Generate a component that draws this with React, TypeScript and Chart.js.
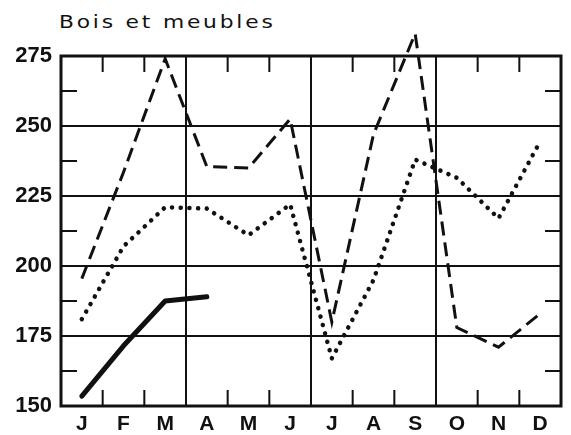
import React, { useEffect, useRef } from "react";
import { Chart, registerables } from "chart.js";

Chart.register(...registerables);

const months = ["J", "F", "M", "A", "M", "J", "J", "A", "S", "O", "N", "D"];
const dashedSeries = [195.5, 233.5, 274, 235.5, 235, 252.5, 180, 247, 283, 178, 171, 183];
const dottedSeries = [181, 207, 221, 220.5, 211, 222, 167, 195, 238, 231.5, 217, 244.5];
const solidSeries: (number | null)[] = [153.5, 171.5, 187.5, 189, null, null, null, null, null, null, null, null];
const yMin = 150;
const yMax = 275;
const yStep = 25;
const minorYTicks = [162.5, 187.5, 212.5, 237.5, 262.5];
const quarterBoundaries = [3, 6, 9];
const titleText = "Bois et meubles";

const INK = "#111";

const framePlugin = {
  id: "frame",
  beforeDatasetsDraw(chart: any) {
    const { ctx, chartArea: a, scales } = chart;
    const xs = scales.x;
    const ys = scales.y;
    const tickLen = 16;
    ctx.save();
    ctx.strokeStyle = INK;
    ctx.lineCap = "butt";
    ctx.lineWidth = 2;
    const n = months.length;
    for (let i = 1; i < n; i++) {
      const x = (xs.getPixelForValue(i - 1) + xs.getPixelForValue(i)) / 2;
      ctx.beginPath();
      if (quarterBoundaries.includes(i)) {
        ctx.moveTo(x, a.top);
        ctx.lineTo(x, a.bottom);
      } else {
        ctx.moveTo(x, a.top);
        ctx.lineTo(x, a.top + tickLen);
        ctx.moveTo(x, a.bottom);
        ctx.lineTo(x, a.bottom - tickLen);
      }
      ctx.stroke();
    }
    for (const v of minorYTicks) {
      const y = ys.getPixelForValue(v);
      ctx.beginPath();
      ctx.moveTo(a.left, y);
      ctx.lineTo(a.left + tickLen, y);
      ctx.moveTo(a.right, y);
      ctx.lineTo(a.right - tickLen, y);
      ctx.stroke();
    }
    ctx.lineWidth = 3;
    ctx.strokeRect(a.left, a.top, a.right - a.left, a.bottom - a.top);
    ctx.restore();
  },
};

export default function App() {
  const ref = useRef<HTMLCanvasElement | null>(null);
  useEffect(() => {
    if (!ref.current) return;
    const chart = new Chart(ref.current, {
      type: "line",
      data: {
        labels: months,
        datasets: [
          {
            label: "dashed",
            data: dashedSeries,
            borderColor: INK,
            borderWidth: 3,
            borderDash: [14, 7],
            pointRadius: 0,
            tension: 0,
            clip: false as any,
          },
          {
            label: "dotted",
            data: dottedSeries,
            borderColor: INK,
            borderWidth: 4.5,
            borderDash: [0.1, 8.6],
            borderCapStyle: "round",
            pointRadius: 0,
            tension: 0,
            clip: false as any,
          },
          {
            label: "solid",
            data: solidSeries,
            borderColor: INK,
            borderWidth: 5,
            borderCapStyle: "round",
            borderJoinStyle: "round",
            pointRadius: 0,
            tension: 0,
            spanGaps: false,
            clip: false as any,
          },
        ],
      },
      options: {
        animation: false,
        responsive: false,
        maintainAspectRatio: false,
        layout: { padding: { top: 56, right: 10, left: 0, bottom: 0 } },
        plugins: { legend: { display: false }, tooltip: { enabled: false }, title: { display: false } },
        scales: {
          x: {
            type: "category",
            offset: true,
            grid: { display: false, drawTicks: false },
            border: { display: false },
            ticks: {
              color: INK,
              padding: 6,
              maxRotation: 0,
              autoSkip: false,
              font: { family: "Liberation Sans", weight: "bold", size: 21 },
            },
            afterFit: (s: any) => {
              s.height = 29;
            },
          },
          y: {
            min: yMin,
            max: yMax,
            grid: { color: INK, lineWidth: 2, drawTicks: false },
            border: { display: false },
            ticks: {
              stepSize: yStep,
              color: INK,
              padding: 9,
              font: { family: "Liberation Sans", weight: "bold", size: 22 },
            },
            afterFit: (s: any) => {
              s.width = 61;
            },
          },
        },
      },
      plugins: [framePlugin],
    });
    return () => chart.destroy();
  }, []);

  return (
    <div style={{ position: "absolute", left: 0, top: 0, width: 571, height: 435, background: "#fff" }}>
      <div
        style={{
          position: "absolute",
          left: 59,
          top: 14,
          fontFamily: "'DejaVu Sans', sans-serif",
          fontSize: 17,
          lineHeight: 1,
          letterSpacing: "2.2px",
          color: INK,
          whiteSpace: "nowrap",
          transform: "scaleX(1.28)",
          transformOrigin: "left top",
        }}
      >
        {titleText}
      </div>
      <canvas ref={ref} width={571} height={435} style={{ position: "absolute", left: 0, top: 0 }} />
    </div>
  );
}
